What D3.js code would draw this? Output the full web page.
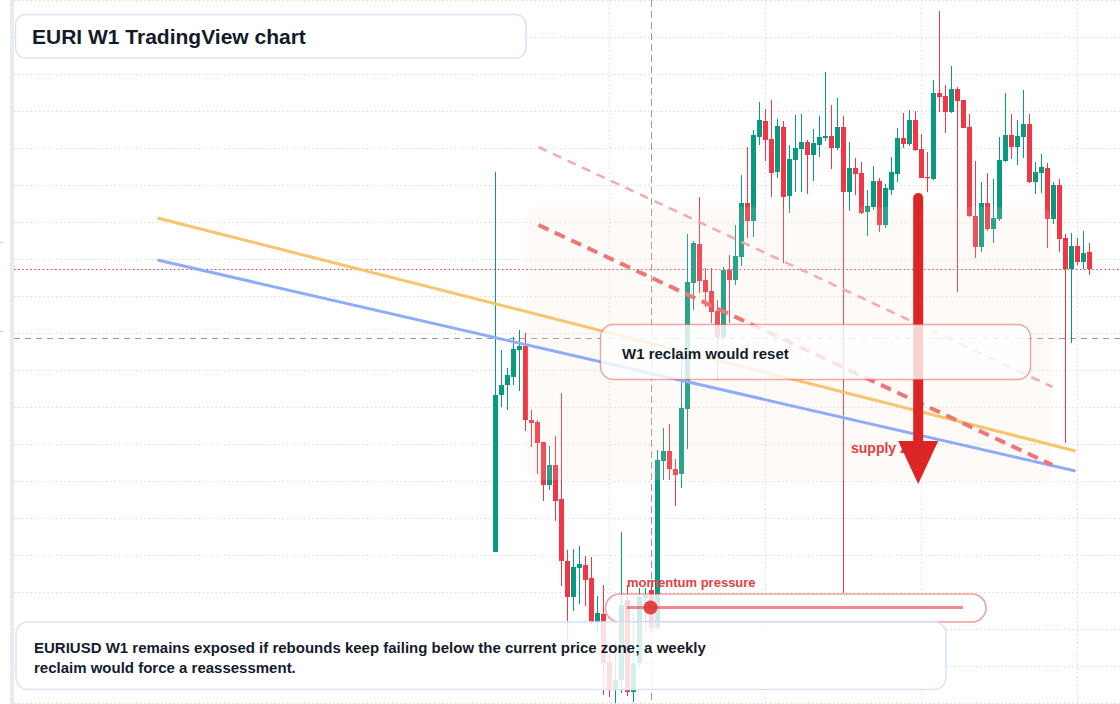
<!DOCTYPE html>
<html><head><meta charset="utf-8">
<script src="https://cdn.jsdelivr.net/npm/d3@7"></script>
<style>
html,body{margin:0;padding:0;background:#fff;overflow:hidden}
svg{display:block}
text{font-family:"Liberation Sans",Arial,Helvetica,sans-serif;font-weight:700}
</style>
</head><body>
<svg id="c" width="1120" height="704"></svg>
<script>
// ---- data (EURUSD weekly candles) ----
const opens = [
1.0648,1.0805,1.0815,1.0823,1.0850,1.0854,1.0780,1.0778,1.0758,1.0715,
1.0735,1.0701,1.0639,1.0603,1.0632,1.0635,1.0622,1.0578,1.0586,1.0538,
1.0510,1.0520,1.0600,1.0508,1.0537,1.0602,1.0610,1.0572,1.0739,1.0749,
1.0731,1.0726,1.0791,1.0917,1.0956,1.0920,1.0909,1.0889,1.0863,1.0930,
1.0920,1.0943,1.0997,1.0979,1.1063,1.1079,1.1061,1.1028,1.1073,1.1004,
1.1040,1.1051,1.1058,1.1045,1.1055,1.1062,1.1064,1.1052,1.1073,1.1008,
1.1032,1.1027,1.0988,1.0993,1.1019,1.0975,1.1010,1.1026,1.1062,1.1056,
1.1080,1.1051,1.1023,1.1021,1.1107,1.1104,1.1088,1.1111,1.1100,1.1073,
1.0984,1.0953,1.0997,1.0971,1.0981,1.1039,1.1065,1.1053,1.1063,1.1076,
1.1018,1.1027,1.1032,1.0981,1.1015,1.0962,1.0931,1.0954,1.0938,1.0948];
const closes = [
1.0805,1.0815,1.0825,1.0851,1.0854,1.0780,1.0777,1.0757,1.0715,1.0735,
1.0699,1.0639,1.0603,1.0633,1.0636,1.0620,1.0578,1.0587,1.0537,1.0510,
1.0520,1.0595,1.0508,1.0537,1.0603,1.0605,1.0572,1.0740,1.0749,1.0731,
1.0725,1.0792,1.0918,1.0957,1.0919,1.0908,1.0888,1.0863,1.0930,1.0920,
1.0944,1.0997,1.0979,1.1065,1.1080,1.1060,1.1027,1.1074,1.1003,1.1041,
1.1052,1.1058,1.1045,1.1057,1.1063,1.1064,1.1052,1.1073,1.1008,1.1032,
1.1026,1.0987,1.0994,1.1019,1.0975,1.1012,1.1028,1.1062,1.1056,1.1080,
1.1050,1.1022,1.1022,1.1107,1.1103,1.1088,1.1111,1.1099,1.1072,1.0984,
1.0953,1.0997,1.0971,1.0982,1.1040,1.1065,1.1053,1.1064,1.1076,1.1018,
1.1028,1.1033,1.0981,1.1015,1.0961,1.0931,1.0954,1.0938,1.0947,1.0931];
const highs = [
1.1028,1.0850,1.0832,1.0863,1.0870,1.0867,1.0790,1.0780,1.0758,1.0754,
1.0764,1.0807,1.0650,1.0651,1.0654,1.0644,1.0643,1.0604,1.0615,1.0550,
1.0559,1.0668,1.0615,1.0587,1.0612,1.0612,1.0615,1.0750,1.0772,1.0776,
1.0741,1.0842,1.0966,1.0959,1.1003,1.0932,1.0932,1.0900,1.0933,1.0945,
1.0975,1.1025,1.1053,1.1070,1.1098,1.1091,1.1100,1.1081,1.1079,1.1055,
1.1085,1.1086,1.1060,1.1071,1.1084,1.1128,1.1095,1.1102,1.1084,1.1058,
1.1042,1.1038,1.1010,1.1034,1.1022,1.1016,1.1043,1.1072,1.1087,1.1090,
1.1089,1.1066,1.1048,1.1120,1.1189,1.1115,1.1134,1.1113,1.1100,1.1086,
1.1039,1.1018,1.1027,1.1021,1.1063,1.1107,1.1086,1.1080,1.1110,1.1086,
1.1038,1.1046,1.1037,1.1018,1.1021,1.0966,1.0967,1.0962,1.0969,1.0957];
const lows = [
1.0648,1.0793,1.0790,1.0815,1.0809,1.0769,1.0753,1.0726,1.0699,1.0710,
1.0679,1.0614,1.0560,1.0589,1.0596,1.0594,1.0576,1.0567,1.0505,1.0503,
1.0497,1.0507,1.0504,1.0498,1.0533,1.0570,1.0568,1.0570,1.0720,1.0720,
1.0694,1.0712,1.0751,1.0890,1.0907,1.0893,1.0877,1.0820,1.0860,1.0877,
1.0915,1.0934,1.0962,1.0963,1.1055,1.1039,1.1003,1.1022,1.0937,1.0987,
1.1008,1.1008,1.1006,1.1019,1.1043,1.1059,1.1031,1.1050,1.0607,1.0989,
1.1005,1.0986,1.0964,1.0990,1.0968,1.0972,1.1005,1.1018,1.1052,1.1054,
1.1049,1.1022,1.1008,1.1020,1.1088,1.1067,1.1087,1.0908,1.1072,1.0983,
1.0942,1.0948,1.0969,1.0957,1.0979,1.1038,1.1041,1.1035,1.1042,1.1017,
1.1006,1.1007,1.0952,1.0976,1.0948,1.0757,1.0857,1.0935,1.0931,1.0925];

// grid / markers
const gridPrices = [1.1200,1.1163,1.1126,1.1089,1.1052,1.1015,1.0978,1.0941,1.0904,1.0867,
                    1.0830,1.0793,1.0756,1.0719,1.0682,1.0645,1.0608,1.0571,1.0534,1.0497];
const gridWeeks = [19, 45, 71, 97];
const crossWeek = 26;
const crossPrice = 1.0862;
const lastPrice = closes[closes.length - 1];

// drawn lines: [weekIndex, price]
const orangeLine = [[-56.33, 1.0982], [96.67, 1.0749]];
const blueLine   = [[-56.33, 1.0940], [96.67, 1.0729]];
const channelUpper = [[7.17, 1.1053], [92.83, 1.0813]];
const channelLower = [[7.17, 1.0975], [92.83, 1.0735]];
const supplyZone = {from: 5.25, to: 92.75, top: 1.0993, bottom: 1.0720};
const arrowWeek = 70.45, arrowFrom = 1.1002, arrowTo = 1.0716;
const momentumValue = 0.07;

const titleText = "EURI W1 TradingView chart";
const noteLines = ["EURIUSD W1 remains exposed if rebounds keep failing below the current price zone; a weekly",
                   "reclaim would force a reassessment."];

// ---- scales ----
const svg = d3.select('#c');
const x = d3.scaleLinear().domain([0, 99]).range([495.5, 1089.5]);
const y = d3.scaleLinear().domain([1.12, 1.0496]).range([0, 704]);
const crisp = v => Math.round(v) + 0.5;
const UP = '#089981', DN = '#f23645';
const data = opens.map((o, i) => ({i, o, c: closes[i], h: highs[i], l: lows[i]}));

svg.append('rect').attr('width', 1120).attr('height', 704).attr('fill', '#fff');
svg.append('rect').attr('x', 10).attr('y', 0).attr('width', 4).attr('height', 704).attr('fill', '#ebebeb');
svg.selectAll('.axmark').data([242, 331]).join('line')
  .attr('x1', 0).attr('x2', 3).attr('y1', d => d + 0.5).attr('y2', d => d + 0.5)
  .attr('stroke', '#d0d0d0');

// grid
const grid = svg.append('g');
grid.selectAll('.hg').data(gridPrices).join('line')
  .attr('x1', 14).attr('x2', 1120)
  .attr('y1', d => crisp(y(d))).attr('y2', d => crisp(y(d)))
  .attr('stroke', '#d2d2d2').attr('stroke-dasharray', '1.2 3');
grid.selectAll('.vg').data(gridWeeks).join('line')
  .attr('y1', 0).attr('y2', 704)
  .attr('x1', d => x(d) - 0.5 + 0.5).attr('x2', d => x(d))
  .attr('stroke', '#d2d2d2').attr('stroke-dasharray', '1.2 3');

// crosshair and last price
svg.append('line').attr('x1', 14).attr('x2', 1120)
  .attr('y1', crisp(y(crossPrice))).attr('y2', crisp(y(crossPrice)))
  .attr('stroke', '#9a9a9a').attr('stroke-dasharray', '6 5');
svg.append('line').attr('y1', 0).attr('y2', 704)
  .attr('x1', x(crossWeek)).attr('x2', x(crossWeek))
  .attr('stroke', '#9a9a9a').attr('stroke-dasharray', '7 4');
svg.append('line').attr('x1', 14).attr('x2', 1120)
  .attr('y1', crisp(y(lastPrice))).attr('y2', crisp(y(lastPrice)))
  .attr('stroke', DN).attr('stroke-dasharray', '1.5 2.6');

// candles
const cg = svg.append('g');
cg.selectAll('.wick').data(data).join('line')
  .attr('x1', d => x(d.i)).attr('x2', d => x(d.i))
  .attr('y1', d => y(d.h)).attr('y2', d => y(d.l))
  .attr('stroke', d => d.c >= d.o ? UP : DN).attr('stroke-width', 1);
cg.selectAll('.body').data(data).join('rect')
  .attr('x', d => x(d.i) - 2.5).attr('width', 5)
  .attr('y', d => y(Math.max(d.o, d.c)))
  .attr('height', d => Math.max(1.2, y(Math.min(d.o, d.c)) - y(Math.max(d.o, d.c))))
  .attr('fill', d => d.c >= d.o ? UP : DN);

// supply zone overlay
svg.append('rect')
  .attr('x', x(supplyZone.from)).attr('y', y(supplyZone.top))
  .attr('width', x(supplyZone.to) - x(supplyZone.from))
  .attr('height', y(supplyZone.bottom) - y(supplyZone.top))
  .attr('rx', 12).attr('fill', 'rgba(242,222,208,0.15)');

// trend lines
const ln = d3.line().x(d => x(d[0])).y(d => y(d[1]));
svg.append('path').attr('d', ln(orangeLine)).attr('fill', 'none')
  .attr('stroke', '#f8c46c').attr('stroke-width', 3);
svg.append('path').attr('d', ln(blueLine)).attr('fill', 'none')
  .attr('stroke', '#8fadf6').attr('stroke-width', 3);
svg.append('path').attr('d', ln(channelUpper)).attr('fill', 'none')
  .attr('stroke', '#f4abab').attr('stroke-width', 2.5).attr('stroke-dasharray', '9 7');
svg.append('path').attr('d', ln(channelLower)).attr('fill', 'none')
  .attr('stroke', '#ec7777').attr('stroke-width', 4).attr('stroke-dasharray', '11 7');

// supply label
svg.append('text').attr('x', 851).attr('y', 453)
  .attr('font-size', 14).attr('fill', '#e53e3e').text('supply zone');

// arrow
const ax = x(arrowWeek), tipY = y(arrowTo), headH = 43, headW = 20;
svg.append('line').attr('x1', ax).attr('x2', ax)
  .attr('y1', y(arrowFrom)).attr('y2', tipY - headH + 4)
  .attr('stroke', '#dc2626').attr('stroke-width', 10).attr('stroke-linecap', 'round');
svg.append('path')
  .attr('d', `M${ax - headW},${tipY - headH}L${ax + headW},${tipY - headH}L${ax},${tipY}Z`)
  .attr('fill', '#dc2626');

// W1 reclaim box
svg.append('rect').attr('x', 600.5).attr('y', 324.5).attr('width', 430).attr('height', 55)
  .attr('rx', 13).attr('fill', 'rgba(255,255,255,0.8)')
  .attr('stroke', 'rgba(229,62,62,0.45)').attr('stroke-width', 1.5);
svg.append('text').attr('x', 622).attr('y', 359).attr('font-size', 15)
  .attr('fill', '#141c2b').text('W1 reclaim would reset');

// momentum gauge
const g = d3.scaleLinear().domain([0, 1]).range([627, 963]);
svg.append('rect').attr('x', 605.5).attr('y', 594).attr('width', 380.5).attr('height', 28)
  .attr('rx', 14).attr('fill', 'rgba(255,255,255,0.8)')
  .attr('stroke', 'rgba(229,62,62,0.5)').attr('stroke-width', 1.5);
svg.append('line').attr('x1', g(0)).attr('x2', g(1)).attr('y1', 607.5).attr('y2', 607.5)
  .attr('stroke', 'rgba(229,62,62,0.6)').attr('stroke-width', 3);
svg.append('circle').attr('cx', g(momentumValue)).attr('cy', 607.5).attr('r', 7)
  .attr('fill', 'rgba(226,50,50,0.9)');
svg.append('text').attr('x', 627).attr('y', 587).attr('font-size', 13)
  .attr('fill', '#e53e3e').text('momentum pressure');

// title box
svg.append('rect').attr('x', 15.5).attr('y', 14.5).attr('width', 510.5).attr('height', 43.5)
  .attr('rx', 10).attr('fill', 'rgba(255,255,255,0.96)')
  .attr('stroke', '#d6e4fb').attr('stroke-width', 1.5);
svg.append('text').attr('x', 32).attr('y', 43.5).attr('font-size', 21)
  .attr('fill', '#131b2a').text(titleText);

// note box
svg.append('rect').attr('x', 16).attr('y', 622).attr('width', 930).attr('height', 67.5)
  .attr('rx', 12).attr('fill', 'rgba(255,255,255,0.84)')
  .attr('stroke', '#d6e4fb').attr('stroke-width', 1.5);
svg.append('text').attr('font-size', 15).attr('fill', '#141c2b')
  .selectAll('tspan').data(noteLines).join('tspan')
  .attr('x', 34).attr('y', (d, i) => 653 + i * 20).text(d => d);
</script>
</body></html>
